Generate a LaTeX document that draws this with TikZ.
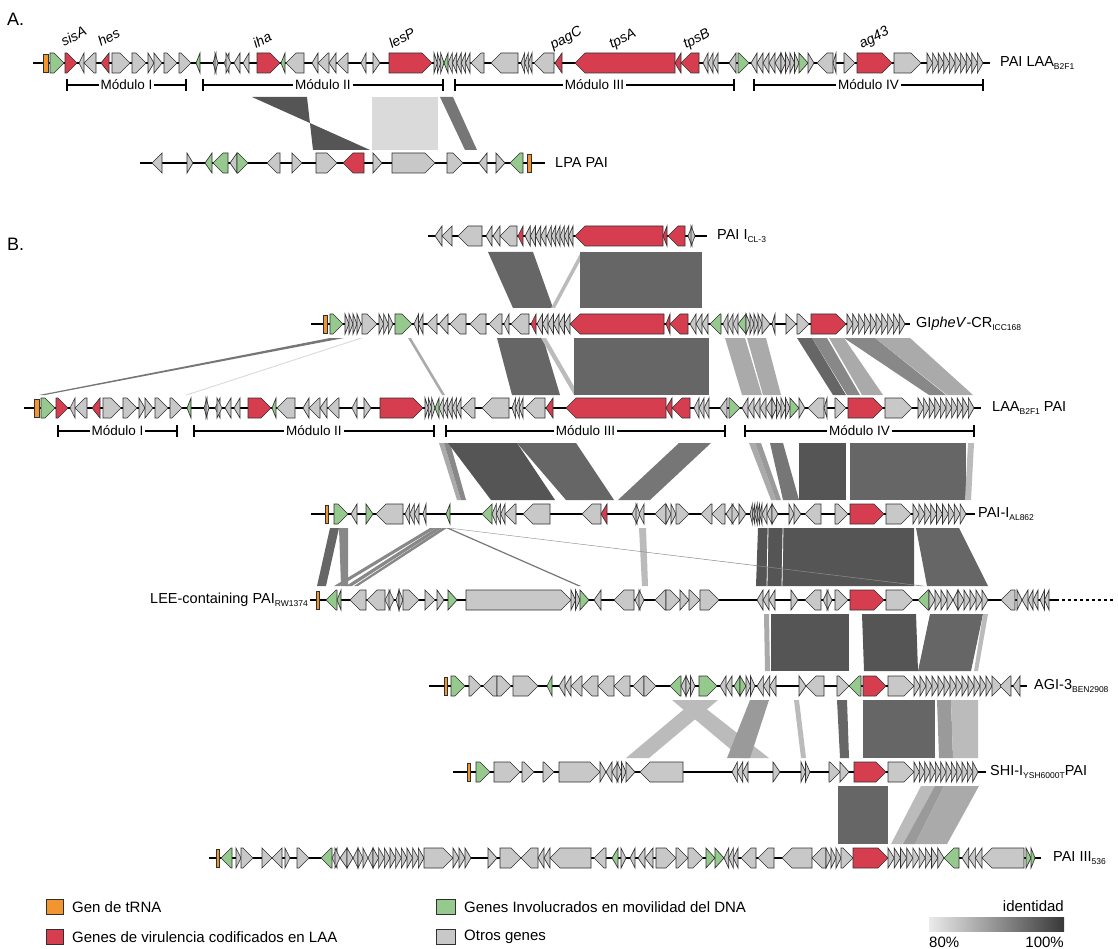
\documentclass[tikz,border=0pt]{standalone}
\usepackage{fontspec}
\setmainfont{Liberation Sans}
\definecolor{cG}{HTML}{C8C8C8}
\definecolor{cR}{HTML}{D63E50}
\definecolor{cV}{HTML}{96C98E}
\definecolor{cO}{HTML}{F0952F}
\definecolor{cE}{HTML}{303030}
\definecolor{k5}{HTML}{555555}
\definecolor{k6}{HTML}{666666}
\definecolor{k7}{HTML}{767676}
\definecolor{k8}{HTML}{888888}
\definecolor{k9}{HTML}{9A9A9A}
\definecolor{kA}{HTML}{AAAAAA}
\definecolor{kB}{HTML}{BBBBBB}
\definecolor{kD}{HTML}{DADADA}
\tikzset{
  gene/.style={draw=cE,line width=0.65pt,line join=miter},
  trackline/.style={draw=black,line width=1.3pt},
  modline/.style={draw=black,line width=1.3pt},
  lab/.style={inner sep=0pt,font=\fontsize{14.5}{17}\selectfont},
  modtxt/.style={fill=white,inner sep=2pt,font=\fontsize{13.5}{16}\selectfont},
  gname/.style={inner sep=0pt,rotate=28,anchor=base west,font=\fontsize{14}{16}\selectfont\itshape},
  legtxt/.style={inner sep=0pt,anchor=west,font=\fontsize{15}{17}\selectfont},
  legbox/.style={draw=cE,line width=0.8pt},
}
\newcommand\hh{10}
\newcommand\hl{10}
\newcommand\sbs[1]{\raisebox{-3.5pt}{\fontsize{8.5}{9}\selectfont #1}}
\newcommand\gR[3]{%
  \pgfmathsetmacro\ga{#1}\pgfmathsetmacro\gb{#2}%
  \pgfmathsetmacro\gc{max(\ga,\gb-\hl)}%
  \draw[gene,fill=#3] (\ga,\ty-\hh) -- (\gc,\ty-\hh) -- (\gb,\ty) -- (\gc,\ty+\hh) -- (\ga,\ty+\hh) -- cycle;}
\newcommand\gL[3]{%
  \pgfmathsetmacro\ga{#1}\pgfmathsetmacro\gb{#2}%
  \pgfmathsetmacro\gc{min(\gb,\ga+\hl)}%
  \draw[gene,fill=#3] (\gb,\ty-\hh) -- (\gc,\ty-\hh) -- (\ga,\ty) -- (\gc,\ty+\hh) -- (\gb,\ty+\hh) -- cycle;}
\newcommand\gT[2]{\draw[gene,fill=cO] (#1,\ty-9) rectangle (#2,\ty+9);}
\newcommand\gRs[3]{\foreach \ii in {1,...,#3}{%
  \pgfmathsetmacro\sa{#1+(\ii-1)*(#2-#1)/#3}\pgfmathsetmacro\sb{#1+\ii*(#2-#1)/#3}\gR{\sa}{\sb}{cG}}}
\newcommand\gLs[3]{\foreach \ii in {1,...,#3}{%
  \pgfmathsetmacro\sa{#1+(\ii-1)*(#2-#1)/#3}\pgfmathsetmacro\sb{#1+\ii*(#2-#1)/#3}\gL{\sa}{\sb}{cG}}}
\newcommand\trk[3]{\def\ty{#1}\draw[trackline] (#2,#1) -- (#3,#1);}
\newcommand\lk[5]{\fill[#1] (#2,\yt) -- (#3,\yt) -- (#4,\yb) -- (#5,\yb) -- cycle;}
\newcommand\modl[4]{%
  \draw[modline] (#2,#1-6) -- (#2,#1+6) (#3,#1-6) -- (#3,#1+6) (#2,#1) -- (#3,#1);
  \node[modtxt] at ({(#2+#3)/2},#1) {#4};}
\newcommand\genesLAA{%
\gT{43}{48}
\gR{50}{64}{cV}
\gR{65}{77}{cR}
\gL{79}{84}{cG}
\gL{84}{96}{cG}
\gL{101}{109}{cR}
\gR{112}{130}{cG}
\gR{132}{146}{cG}
\gR{148}{154}{cG}
\gR{154}{162}{cG}
\gR{164}{177}{cG}
\gR{179}{191}{cG}
\gL{196}{200}{cV}
\gL{213}{216}{cG}\gR{215}{218}{cG}
\gL{224}{229}{cG}\gR{226}{231}{cG}
\gL{234}{240}{cG}
\gL{243}{249}{cG}
\gR{257}{280}{cR}
\gL{281}{285}{cV}
\gL{286}{304}{cG}
\gL{312}{318}{cG}
\gL{318}{329}{cG}
\gL{329}{336}{cG}
\gL{337}{348}{cG}
\gL{361}{366}{cG}
\gR{373}{380}{cG}
\gR{389}{432}{cR}
\gRs{434}{444}{3}
\gL{444}{448}{cV}
\gLs{448}{470}{5}
\gL{471}{484}{cG}
\gL{491}{518}{cG}
\gLs{521}{532}{3}
\gL{534}{554}{cG}
\gL{555}{562}{cR}
\gL{575}{675}{cR}
\gL{675}{681}{cR}
\gL{681}{699}{cR}
\gLs{703}{718}{3}
\gL{729}{736}{cG}
\gR{738}{749}{cV}
\gLs{751}{781}{5}
\gRs{781}{799}{4}
\gR{799}{808}{cV}
\gR{808}{814}{cG}
\gL{817}{833}{cG}
\gL{833}{836}{cG}
\gR{844}{855}{cG}
\gR{857}{892}{cR}
\gR{894}{921}{cG}
\gRs{927}{983}{10}}
\begin{document}
\begin{tikzpicture}[x=1pt,y=-1pt]
\useasboundingbox (0,0) rectangle (1118,949);
\node[inner sep=0pt,anchor=west,font=\fontsize{18}{20}\selectfont] (lblA) at (7,19) {A.};
\node[inner sep=0pt,anchor=west,font=\fontsize{18}{20}\selectfont] (lblB) at (7,244) {B.};
% ---------------- links ----------------
% A1 -> LPA
\def\yt{97}\def\yb{150}
\lk{k5}{252}{307}{313}{370}
\lk{kD}{372}{438}{438}{372}
\lk{k7}{440}{453}{477}{465}
% CL-3 -> GIpheV
\def\yt{252}\def\yb{308}
\lk{k6}{488}{533}{553}{513}
\lk{kB}{581}{585}{555}{551}
\lk{k6}{580}{702}{702}{580}
% GIpheV -> LAA
\def\yt{338}\def\yb{395}
\lk{k7}{330}{344}{45}{39}
\lk{kD}{360}{363}{188}{185}
\lk{kA}{408}{411}{445}{442}
\lk{k6}{497}{543}{560}{512}
\lk{kB}{541}{546}{579}{574}
\lk{k6}{574}{709}{709}{574}
\lk{kA}{725}{745}{762}{742}
\lk{kA}{747}{766}{781}{763}
\lk{k6}{797}{812}{846}{833}
\lk{k8}{812}{827}{860}{847}
\lk{kA}{829}{844}{883}{862}
\lk{k8}{844}{875}{946}{929}
\lk{kA}{875}{910}{973}{947}
% LAA -> AL862
\def\yt{443}\def\yb{500}
\lk{kA}{439}{444}{461}{457}
\lk{k8}{444}{450}{466}{461}
\lk{k5}{448}{517}{555}{491}
\lk{k6}{517}{576}{614}{566}
\lk{k7}{679}{711}{650}{618}
\lk{kA}{749}{755}{776}{771}
\lk{k9}{755}{761}{781}{776}
\lk{k7}{770}{783}{799}{783}
\lk{k5}{799}{846}{846}{799}
\lk{k6}{850}{966}{966}{850}
\lk{kB}{968}{974}{971}{965}
% AL862 -> RW1374
\def\yt{528}\def\yb{586}
\lk{k6}{330}{339}{326}{317}
\lk{k8}{339}{348}{348}{341}
\lk{k8}{430}{436}{340}{334}
\lk{k8}{436}{442}{352}{346}
\lk{k8}{442}{447}{358}{354}
\lk{k7}{446}{449}{581}{578}
\lk{kB}{639}{646}{648}{642}
\lk{k5}{758}{914}{914}{756}
\lk{k6}{916}{959}{988}{927}
\draw[white,line width=0.8pt] (768,528) -- (767,586) (783,528) -- (782,586);
\lk{k8}{447}{450}{925}{920}
% RW1374 -> AGI-3
\def\yt{614}\def\yb{671}
\lk{kA}{764}{769}{770}{765}
\lk{k5}{771}{849}{849}{771}
\lk{k5}{862}{916}{918}{864}
\lk{k6}{930}{983}{971}{918}
\lk{kB}{983}{988}{978}{974}
% AGI-3 -> SHI
\def\yt{700}\def\yb{758}
\lk{kB}{672}{695}{769}{741}
\lk{kB}{695}{718}{649}{626}
\lk{k9}{750}{769}{750}{727}
\lk{kB}{794}{799}{806}{801}
\lk{k6}{837}{847}{849}{840}
\lk{k6}{863}{935}{935}{863}
\lk{k9}{937}{951}{953}{939}
\lk{kB}{951}{978}{978}{953}
% SHI -> PAI III
\def\yt{786}\def\yb{844}
\lk{k6}{838}{888}{888}{838}
\lk{kB}{921}{935}{903}{891}
\lk{k9}{935}{944}{915}{903}
\lk{kA}{944}{979}{947}{915}
% ---------------- A1: PAI LAA ----------------
\trk{63}{33}{990}
\genesLAA
\node[lab,anchor=west] (tA1) at (1000,63) {PAI LAA\sbs{B2F1}};
\node[gname] (nsisA) at (64,47) {sisA};
\node[gname] (nhes) at (101,47) {hes};
\node[gname] (niha) at (256,49) {iha};
\node[gname] (nlesP) at (392,49) {lesP};
\node[gname] (npagC) at (553,50) {pagC};
\node[gname] (ntpsA) at (612,49) {tpsA};
\node[gname] (ntpsB) at (686,49) {tpsB};
\node[gname] (nag43) at (862,49) {ag43};
\modl{85}{67}{186}{Módulo I}
\modl{85}{203}{443}{Módulo II}
\modl{85}{455}{734}{Módulo III}
\modl{85}{754}{983}{Módulo IV}
% ---------------- LPA PAI ----------------
\trk{163}{140}{545}
\gL{152}{162}{cG}
\gR{187}{193}{cG}
\gL{205}{212}{cV}
\gL{213}{228}{cV}
\gL{230}{237}{cG}
\gR{237}{248}{cV}
\gL{267}{280}{cG}
\gR{292}{302}{cG}
\gR{316}{337}{cG}
\gL{343}{364}{cR}
\gR{373}{382}{cG}
\gR{392}{435}{cG}
\gR{447}{463}{cG}
\gL{479}{487}{cG}
\gR{496}{505}{cG}
\gL{510}{523}{cV}
\gT{527}{531}
\node[lab,anchor=west] (tLPA) at (555,163) {LPA PAI};
% ---------------- PAI I CL-3 ----------------
\trk{236}{428}{707}
\gL{435}{442}{cG}
\gL{442}{452}{cG}
\gL{458}{482}{cG}
\gL{486}{492}{cG}
\gL{493}{500}{cG}
\gL{500}{517}{cG}
\gL{518}{523}{cR}
\gLs{525}{546}{4}
\gLs{547}{573}{6}
\gL{575}{663}{cR}
\gL{663}{667}{cR}
\gL{668}{685}{cR}
\gL{688}{692}{cG}\gR{691}{695}{cG}
\node[lab,anchor=west] (tCL3) at (717,236) {PAI I\sbs{CL-3}};
% ---------------- GIpheV-CR ----------------
\trk{324}{311}{910}
\gT{323}{327}
\gR{330}{343}{cV}
\gRs{345}{361}{4}
\gR{362}{377}{cG}
\gRs{379}{393}{3}
\gR{395}{412}{cV}
\gLs{414}{423}{2}
\gL{427}{437}{cG}
\gL{439}{448}{cG}
\gL{450}{466}{cG}
\gL{470}{486}{cG}
\gL{489}{502}{cG}
\gL{504}{509}{cG}
\gL{511}{529}{cG}
\gL{531}{536}{cR}
\gLs{537}{570}{6}
\gL{570}{664}{cR}
\gL{666}{670}{cR}
\gL{670}{688}{cR}
\gLs{690}{708}{3}
\gL{710}{721}{cV}
\gLs{723}{738}{3}
\gL{738}{746}{cV}
\gRs{746}{762}{4}
\gR{762}{770}{cG}
\gL{772}{775}{cG}
\gR{786}{796}{cG}
\gR{797}{809}{cG}
\gR{811}{846}{cR}
\gRs{847}{905}{10}
\node[lab,anchor=west] (tGI) at (916,324) {GI\textit{pheV}-CR\sbs{ICC168}};
% ---------------- LAA B2F1 (B) ----------------
\begin{scope}[xshift=-9pt]
\trk{408}{33}{990}
\genesLAA
\modl{431}{67}{186}{Módulo I}
\modl{431}{203}{443}{Módulo II}
\modl{431}{455}{734}{Módulo III}
\modl{431}{754}{983}{Módulo IV}
\end{scope}
\node[lab,anchor=west] (tLAA) at (992,408) {LAA\sbs{B2F1} PAI};
% ---------------- PAI-I AL862 ----------------
\trk{514}{311}{975}
\gT{325}{328}
\gR{334}{348}{cV}
\gL{351}{357}{cG}
\gR{366}{373}{cV}
\gL{376}{403}{cG}
\gLs{405}{419}{3}
\gL{423}{426}{cG}
\gL{446}{450}{cV}
\gL{482}{492}{cV}
\gLs{492}{505}{3}
\gL{505}{516}{cG}
\gL{523}{550}{cG}
\gL{582}{601}{cG}
\gL{601}{607}{cR}
\gL{632}{637}{cG}\gR{636}{640}{cG}\gL{639}{644}{cG}
\gL{655}{666}{cG}
\gRs{666}{676}{2}
\gR{676}{689}{cG}
\gL{701}{712}{cG}
\gL{712}{725}{cG}
\gL{726}{733}{cG}\gR{732}{739}{cG}\gR{739}{746}{cG}
\gLs{750}{762}{5}
\gLs{762}{772}{2}\gR{772}{778}{cG}
\gR{789}{794}{cG}
\gR{794}{801}{cG}
\gL{805}{821}{cG}
\gR{835}{848}{cG}
\gR{850}{884}{cR}
\gR{886}{911}{cG}
\gRs{913}{966}{9}
\node[lab,anchor=west] (tAL) at (978,514) {PAI-I\sbs{AL862}};
% ---------------- RW1374 ----------------
\trk{600}{310}{1056}
\draw[trackline,dash pattern=on 3pt off 3pt] (1056,600) -- (1114,600);
\gT{316}{319}
\gL{326}{337}{cV}
\gL{337}{341}{cV}
\gL{350}{366}{cG}
\gL{367}{385}{cG}
\gL{385}{390}{cG}\gR{389}{394}{cG}
\gL{396}{399}{cG}\gR{399}{403}{cG}
\gR{403}{419}{cG}
\gR{425}{435}{cG}
\gR{437}{444}{cG}
\gR{448}{457}{cV}
\gR{466}{571}{cG}
\gRs{571}{580}{2}
\gR{580}{589}{cV}
\gL{594}{601}{cG}
\gL{614}{634}{cG}
\gL{635}{640}{cG}\gR{639}{644}{cG}
\gL{655}{666}{cG}
\gR{666}{680}{cG}
\gR{680}{689}{cG}
\gR{689}{700}{cG}
\gR{700}{719}{cG}
\gLs{757}{775}{3}
\gR{791}{798}{cG}
\gL{805}{821}{cG}
\gL{823}{828}{cG}\gR{827}{832}{cG}
\gR{835}{848}{cG}
\gR{850}{884}{cR}
\gR{886}{913}{cG}
\gL{918}{929}{cV}
\gRs{929}{953}{4}
\gL{953}{958}{cG}
\gRs{958}{988}{5}
\gL{1001}{1015}{cG}
\gR{1017}{1022}{cG}\gL{1022}{1028}{cG}
\gLs{1028}{1038}{2}
\gLs{1040}{1049}{2}
\node[lab,anchor=east] (tRW) at (308,600) {LEE-containing PAI\sbs{RW1374}};
% ---------------- AGI-3 ----------------
\trk{686}{429}{1027}
\gT{444}{447}
\gR{451}{465}{cV}
\gR{469}{481}{cG}
\gL{483}{497}{cG}
\gR{497}{511}{cG}
\gR{513}{538}{cG}
\gL{547}{552}{cV}
\gLs{559}{571}{2}
\gL{571}{582}{cG}
\gL{582}{598}{cG}
\gL{598}{614}{cG}
\gL{614}{630}{cG}
\gL{633}{644}{cG}
\gR{644}{656}{cG}
\gL{670}{681}{cV}
\gL{681}{686}{cG}\gRs{686}{695}{2}
\gR{699}{717}{cV}
\gLs{720}{732}{2}
\gL{734}{740}{cV}\gR{740}{746}{cV}
\gRs{746}{755}{2}
\gLs{757}{776}{3}
\gR{799}{806}{cG}
\gL{806}{824}{cG}
\gR{837}{849}{cG}
\gL{849}{861}{cV}
\gR{863}{886}{cR}
\gR{888}{914}{cG}
\gRs{914}{992}{13}
\gR{992}{1002}{cG}\gL{1000}{1011}{cG}
\gL{1013}{1020}{cG}
\node[lab,anchor=west] (tAGI) at (1034,686) {AGI-3\sbs{BEN2908}};
% ---------------- SHI-I ----------------
\trk{772}{453}{986}
\gT{467}{470}
\gR{476}{490}{cV}
\gR{494}{520}{cG}
\gR{522}{534}{cG}
\gR{543}{554}{cG}
\gR{559}{600}{cG}
\gR{600}{606}{cG}\gL{606}{612}{cG}
\gL{612}{618}{cG}\gRs{617}{626}{2}
\gR{626}{635}{cG}
\gL{640}{683}{cG}
\gLs{732}{748}{3}
\gR{773}{780}{cG}
\gRs{801}{810}{2}
\gR{829}{840}{cG}
\gR{840}{849}{cG}
\gR{854}{886}{cR}
\gR{888}{914}{cG}
\gRs{914}{978}{12}
\node[lab,anchor=west] (tSHI) at (990,772) {SHI-I\sbs{YSH6000T}PAI};
% ---------------- PAI III 536 ----------------
\trk{858}{209}{1041}
\gT{216}{219}
\gL{221}{232}{cV}
\gR{236}{241}{cG}
\gR{241}{253}{cG}
\gR{262}{272}{cG}\gL{272}{282}{cG}
\gR{285}{290}{cG}
\gR{297}{309}{cG}
\gL{321}{332}{cV}
\gL{332}{337}{cG}\gR{335}{340}{cG}\gL{340}{347}{cG}
\gR{347}{353}{cG}\gL{353}{358}{cG}\gRs{358}{368}{2}\gL{368}{373}{cG}
\gRs{373}{424}{9}
\gR{424}{453}{cG}
\gRs{453}{471}{3}
\gR{488}{497}{cG}
\gR{500}{521}{cG}
\gL{521}{538}{cG}
\gLs{538}{550}{2}
\gL{550}{591}{cG}
\gL{594}{606}{cG}
\gL{612}{618}{cV}
\gR{621}{626}{cG}\gL{630}{635}{cG}\gL{638}{645}{cG}\gL{645}{653}{cG}
\gR{656}{676}{cG}
\gR{676}{688}{cG}
\gR{688}{703}{cG}
\gR{706}{715}{cV}\gR{715}{724}{cV}
\gLs{724}{738}{3}
\gL{741}{756}{cG}
\gL{758}{774}{cG}
\gL{782}{812}{cG}
\gL{812}{826}{cG}
\gRs{826}{841}{3}
\gR{841}{853}{cG}
\gR{853}{888}{cR}
\gRs{888}{944}{9}
\gL{944}{959}{cV}
\gLs{962}{982}{3}
\gL{982}{1024}{cG}
\gR{1026}{1031}{cV}\gR{1031}{1035}{cV}
\node[lab,anchor=west] (tIII) at (1053,858) {PAI III\sbs{536}};
% ---------------- legend ----------------
\draw[legbox,fill=cO] (46,899) rectangle (63,914);
\node[legtxt] (lg1) at (72,907) {Gen de tRNA};
\draw[legbox,fill=cR] (46,929) rectangle (63,944);
\node[legtxt] (lg2) at (72,937) {Genes de virulencia codificados en LAA};
\draw[legbox,fill=cV] (436,899) rectangle (455,914);
\node[legtxt] (lg3) at (464,907) {Genes Involucrados en movilidad del DNA};
\draw[legbox,fill=cG] (436,929) rectangle (455,944);
\node[legtxt] (lg4) at (464,937) {Otros genes};
\node[legtxt,anchor=east] (lg5) at (1064,906) {identidad};
\shade[left color=white!92!black,right color=black!78] (929,917) rectangle (1064,931);
\node[legtxt] (lg6) at (929,942) {80\%};
\node[legtxt,anchor=east] (lg7) at (1064,942) {100\%};
\end{tikzpicture}
\end{document}
